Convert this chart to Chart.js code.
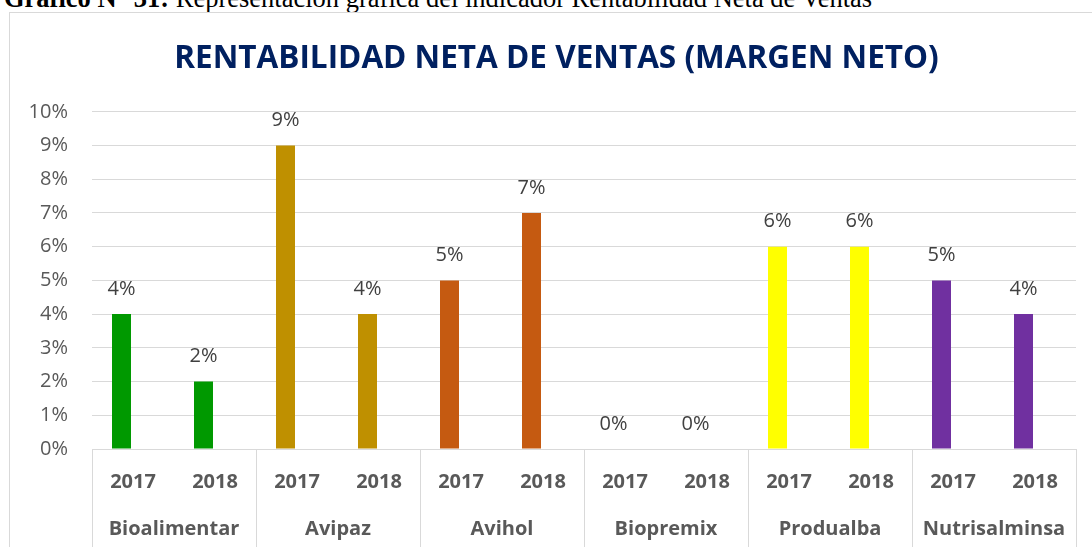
<!DOCTYPE html>
<html>
<head>
<meta charset="utf-8">
<script src="https://cdn.jsdelivr.net/npm/chart.js@4/dist/chart.umd.min.js"></script>
<style>
  html, body { margin: 0; padding: 0; overflow: hidden; background: #fff; }
  body { width: 1092px; height: 547px; position: relative; }
  #caption {
    position: absolute; left: 4px; top: -13px; white-space: nowrap;
    font-family: "Liberation Serif", "Times New Roman", serif; font-size: 26.5px; line-height: 22px; color: #000;
  }
  #box {
    position: absolute; left: 9px; top: 12px; width: 1094px; height: 535px;
    border-left: 1px solid #d9d9d9; border-top: 1px solid #d9d9d9; box-sizing: border-box;
  }
</style>
</head>
<body>
<div id="caption"><b>Gráfico N° 31:</b> Representación gráfica del indicador Rentabilidad Neta de Ventas</div>
<div id="box"><canvas id="chart"></canvas></div>
<script>
// --- DATA ---
const companies = ['Bioalimentar', 'Avipaz', 'Avihol', 'Biopremix', 'Produalba', 'Nutrisalminsa'];
const years = ['2017', '2018'];
const margin = [4, 2, 9, 4, 5, 7, 0, 0, 6, 6, 5, 4]; // % por empresa y año
const companyColors = ['#009900', '#bf9000', '#c55a11', '#a5a5a5', '#ffff00', '#7030a0'];
const yTicks = [0, 1, 2, 3, 4, 5, 6, 7, 8, 9, 10];

const yearLabels = companies.flatMap(() => years);
const barColors = companyColors.flatMap(c => years.map(() => c));

const FONT = '"Open Sans", "DejaVu Sans", sans-serif';

// group separators below the axis + value labels
const extrasPlugin = {
  id: 'extras',
  afterLayout(chart) {
    // centre the title on the whole chart box, not on the padded area
    chart.titleBlock.left = 0;
    chart.titleBlock.right = chart.width;
  },
  afterDraw(chart) {
    const ctx = chart.ctx;
    const x = chart.scales.x;
    const area = chart.chartArea;
    const step = x.width / companies.length;
    ctx.save();
    ctx.strokeStyle = '#d9d9d9';
    ctx.lineWidth = 1;
    for (let i = 0; i <= companies.length; i++) {
      const px = Math.round(x.left + step * i) + 0.5;
      ctx.beginPath();
      ctx.moveTo(px, area.bottom);
      ctx.lineTo(px, chart.height);
      ctx.stroke();
    }
    const meta = chart.getDatasetMeta(0);
    ctx.fillStyle = '#404040';
    ctx.font = '20px ' + FONT;
    ctx.textAlign = 'center';
    ctx.textBaseline = 'middle';
    meta.data.forEach((bar, i) => {
      ctx.fillText(margin[i] + '%', bar.x, bar.y - 25);
    });
    ctx.restore();
  }
};

new Chart(document.getElementById('chart'), {
  type: 'bar',
  data: {
    labels: yearLabels,
    datasets: [
      { data: margin, backgroundColor: barColors, barPercentage: 0.826, categoryPercentage: 0.561 },
      // empty second series, as in the source sheet (shifts bars left of the tick)
      { data: margin.map(() => null), barPercentage: 0.826, categoryPercentage: 0.561 }
    ]
  },
  options: {
    responsive: true,
    maintainAspectRatio: false,
    animation: false,
    layout: { padding: { left: 0, right: 27, top: 0, bottom: 0 } },
    plugins: {
      legend: { display: false },
      tooltip: { enabled: false },
      title: {
        display: true,
        text: 'RENTABILIDAD NETA DE VENTAS (MARGEN NETO)',
        color: '#002060',
        font: { family: FONT, size: 31.5, weight: 'bold' },
        padding: { top: 27, bottom: 34 }
      }
    },
    scales: {
      y: {
        min: 0, max: 10,
        afterBuildTicks: (s) => { s.ticks = yTicks.map(v => ({ value: v })); },
        afterFit: (s) => { s.width = 82; },
        grid: { color: '#d9d9d9', lineWidth: 1, drawTicks: false },
        border: { display: false },
        ticks: { color: '#595959', font: { family: FONT, size: 20 }, padding: 24, callback: v => v + '%' }
      },
      x: {
        afterFit: (s) => { s.height = 43; },
        grid: { display: false, drawTicks: false },
        border: { color: '#d9d9d9' },
        ticks: { color: '#595959', font: { family: FONT, size: 20, weight: 'bold' }, padding: 21, maxRotation: 0, autoSkip: false }
      },
      x2: {
        type: 'category',
        labels: companies,
        position: 'bottom',
        offset: true,
        afterFit: (s) => { s.height = 55; },
        grid: { display: false, drawTicks: false },
        border: { display: false },
        ticks: { color: '#595959', font: { family: FONT, size: 20, weight: 'bold' }, padding: 25, maxRotation: 0, autoSkip: false }
      }
    }
  },
  plugins: [extrasPlugin]
});
</script>
</body>
</html>
